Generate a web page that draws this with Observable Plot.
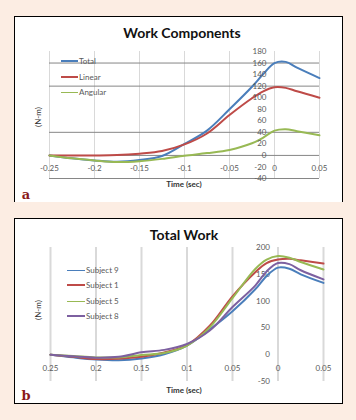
<!DOCTYPE html>
<html><head><meta charset="utf-8">
<script src="https://cdn.jsdelivr.net/npm/d3@7"></script>
<script src="https://cdn.jsdelivr.net/npm/@observablehq/plot@0.6"></script>
<style>
html,body{margin:0;padding:0}
body{background:#fcede3;width:356px;height:420px;position:relative;overflow:hidden;font-family:Lato,"Open Sans",sans-serif}
.panel{position:absolute;background:#fff;box-sizing:border-box}
.abs{position:absolute;white-space:nowrap}
.c{transform:translate(-50%,-50%)}
.title{font-weight:bold;font-size:14px;color:#111}
.axt{font-size:8px;font-weight:bold;color:#333}
.lbl{font-family:"DejaVu Serif","Liberation Serif",serif;font-weight:bold;font-size:13px;color:#8b1a1a}
.leg{position:absolute;left:0;top:0;font-size:8px;color:#595959;line-height:1}
.leg .row{position:absolute;display:flex;align-items:center;transform:translateY(-50%);white-space:nowrap}
.leg .sw{display:inline-block;height:0;margin-right:1px}
.chart{position:absolute;left:0}
</style></head>
<body>
<div class="panel" style="left:14px;top:16px;width:329px;height:186px;border:1.5px solid #000;border-bottom:none"></div>
<div class="panel" style="left:14px;top:218px;width:329px;height:186px;border:1.5px solid #000"></div>
<div id="a" class="chart" style="top:0"></div>
<div id="b" class="chart" style="top:218px"></div>
<div class="abs c title" style="left:182px;top:32px">Work Components</div>
<div class="abs c title" style="left:184px;top:234px">Total Work</div>
<div class="abs c axt" style="left:184px;top:184px">Time (sec)</div>
<div class="abs c axt" style="left:184px;top:390px">Time (sec)</div>
<div class="abs c" style="left:38px;top:117px;font-size:8px;color:#333;transform:translate(-50%,-50%) rotate(-90deg)">(N-m)</div>
<div class="abs c" style="left:38px;top:310px;font-size:8px;color:#333;transform:translate(-50%,-50%) rotate(-90deg)">(N-m)</div>
<div class="abs c lbl" style="left:26px;top:194px">a</div>
<div class="abs c lbl" style="left:26px;top:395px">b</div>
<div id="legA" class="leg"></div>
<div id="legB" class="leg"></div>
<script>
// time axis (sec)
const time = [-0.25,-0.225,-0.2,-0.175,-0.15,-0.125,-0.1,-0.075,-0.05,-0.025,-0.0125,0,0.0125,0.025,0.05];

// Panel a: Work Components (N-m)
const totalWork   = [0,-5,-8.7,-11,-8,-1,20,43,80,119,141,160,162,152,134];
const linearWork  = [0,0,0,0.5,3,7.5,19,38,70,99,111,118,117,111,100];
const angularWork = [0,-5,-8.7,-11.5,-10,-6,-0.5,4,9.5,21,31,43,45.5,42,35];

// Panel b: Total Work per subject (N-m)
const subject9 = [0,-5,-9,-10.5,-7,1,17,47,81,122,147,162.5,160.5,150,134];
const subject1 = [0,-4,-8,-7.5,-4,4,18,54,109,154,171,177.5,179,176,170];
const subject5 = [0,-2.5,-5,-5,-0.5,3,17,51,105.5,160,177.5,184,181,173,159];
const subject8 = [0,-3,-5.5,-4,4.5,9,20,45,89,129,155.5,171,169,157.5,140.5];

const xTicks = [-0.25,-0.2,-0.15,-0.1,-0.05,0,0.05];
const xTickLabelsA = ["-0.25","-0.2","-0.15","-0.1","-0.05","0","0.05"];
const xTickLabelsB = ["0.25","0.2","0.15","0.1","0.05","0","0.05"];
const yTicksA = [-40,-20,0,20,40,60,80,100,120,140,160,180];
const yGridA = [-40,0,40,120,160];
const yTicksB = [-50,0,50,100,150,200];

const seriesA = [
  {name:"Total", values: totalWork, color:"#4a7ebb", legW:2.5},
  {name:"Linear", values: linearWork, color:"#be4b48", legW:2.5},
  {name:"Angular", values: angularWork, color:"#98b954", legW:1}
];
const seriesB = [
  {name:"Subject 9", values: subject9, color:"#4a7ebb", legW:1},
  {name:"Subject 1", values: subject1, color:"#be4b48", legW:2.5},
  {name:"Subject 5", values: subject5, color:"#98b954", legW:1},
  {name:"Subject 8", values: subject8, color:"#7d60a0", legW:2.5}
];
function rows(series){
  return series.flatMap(s => time.map((t,i)=>({t, v:s.values[i], name:s.name})));
}
const font = "Lato, 'Open Sans', sans-serif";

const chartA = Plot.plot({
  width:356, height:202,
  marginLeft:49, marginRight:37, marginTop:51, marginBottom:24,
  style:{background:"transparent", fontFamily:font, overflow:"visible"},
  x:{domain:[-0.25,0.05], axis:null},
  y:{domain:[-40,180], axis:null},
  color:{domain:seriesA.map(s=>s.name), range:seriesA.map(s=>s.color)},
  marks:[
    Plot.ruleX(xTicks, {x:d=>d, y1:-40, y2:180, stroke:"#d9d9d9", strokeWidth:1}),
    Plot.ruleY(yGridA, {y:d=>d, stroke:"#868686", strokeWidth:1}),
    Plot.line(rows(seriesA), {x:"t", y:"v", z:"name", stroke:"name", strokeWidth:2, curve:"catmull-rom"}),
    Plot.text(yTicksA, {x:0, y:d=>d, text:d=>String(d), textAnchor:"end", dx:-8, fontSize:8, fill:"#595959"}),
    Plot.text(xTicks, {x:d=>d, y:0, text:(d,i)=>xTickLabelsA[i], dy:13, fontSize:8, fill:"#595959"})
  ]
});
document.getElementById("a").appendChild(chartA);

const chartB = Plot.plot({
  width:356, height:185,
  marginLeft:50, marginRight:33, marginTop:29, marginBottom:22,
  style:{background:"transparent", fontFamily:font, overflow:"visible"},
  x:{domain:[-0.25,0.05], axis:null},
  y:{domain:[-50,200], axis:null},
  color:{domain:seriesB.map(s=>s.name), range:seriesB.map(s=>s.color)},
  marks:[
    Plot.ruleX(xTicks, {x:d=>d, y1:-50, y2:200, stroke:"#d9d9d9", strokeWidth:2}),
    Plot.text(yTicksB, {x:0, y:d=>d, text:d=>String(d), textAnchor:"end", dx:-8, fontSize:8, fill:"#595959"}),
    Plot.line(rows(seriesB), {x:"t", y:"v", z:"name", stroke:"name", strokeWidth:2, curve:"catmull-rom"}),
    Plot.text(xTicks, {x:d=>d, y:0, text:(d,i)=>xTickLabelsB[i], dy:14, fontSize:8, fill:"#595959"})
  ]
});
document.getElementById("b").appendChild(chartB);

function legend(id, series, x0, swW, ys){
  const el = document.getElementById(id);
  series.forEach((s,i)=>{
    const r = document.createElement("div");
    r.className = "row";
    r.style.left = x0+"px"; r.style.top = ys[i]+"px";
    const sw = document.createElement("span");
    sw.className = "sw";
    sw.style.width = swW+"px";
    sw.style.borderTop = s.legW+"px solid "+s.color;
    r.appendChild(sw);
    r.appendChild(document.createTextNode(s.name));
    el.appendChild(r);
  });
}
legend("legA", seriesA, 61, 17, [61,77,92]);
legend("legB", seriesB, 67, 18, [270,285,301,316]);
</script>
</body></html>
